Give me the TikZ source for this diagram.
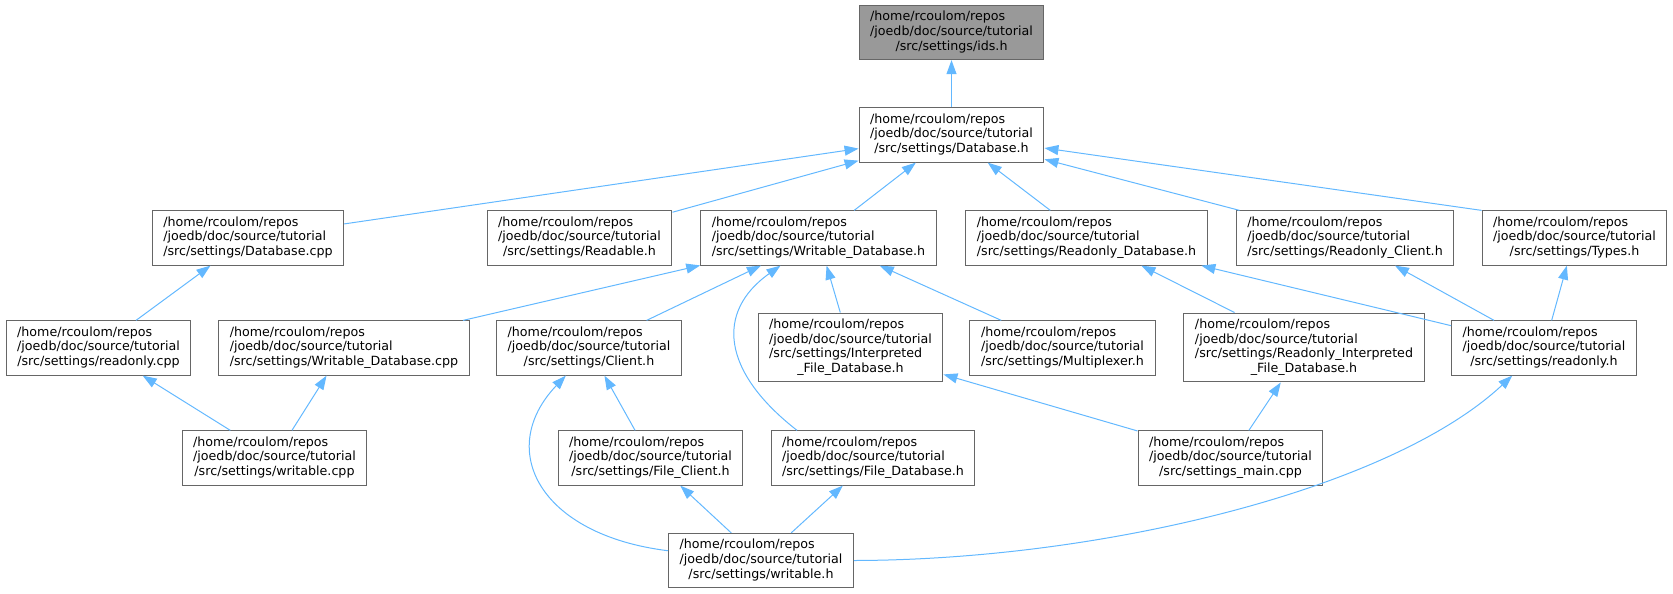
\documentclass[tikz,border=0pt]{standalone}
\usepackage{fontspec}
\setmainfont{DejaVu Sans}
\usepackage{xcolor}
\usetikzlibrary{arrows.meta}
\definecolor{edgeblue}{HTML}{63B8FF}
\definecolor{boxline}{HTML}{666666}
\definecolor{rootfill}{HTML}{999999}
\newcommand{\srcfile}[1]{\begin{tabular}{@{}l@{}}/home/rcoulom/repos\\/joedb/doc/source/tutorial\\\multicolumn{1}{@{}c@{}}{#1}\end{tabular}}
\newcommand{\srcfilelong}[2]{\begin{tabular}{@{}l@{}}/home/rcoulom/repos\\/joedb/doc/source/tutorial\\#1\\\multicolumn{1}{@{}c@{}}{#2}\end{tabular}}

\begin{document}
\begin{tikzpicture}[x=0.75pt,y=-0.75pt,
    file/.style={draw=boxline, fill=white, line width=0.75pt,
      inner xsep=8.3pt, inner ysep=3.85pt, font=\fontsize{9.5pt}{11pt}\selectfont},
    root/.style={file, fill=rootfill},
    dep/.style={draw=edgeblue, line width=0.75pt, -{Triangle[length=10.5pt,width=7.5pt]}}]
    \useasboundingbox (0,0) rectangle (1673,593);
    \node[root] (ids) at (951.5,32.5) {\srcfile{/src/settings/ids.h}};
    \node[file] (dbh) at (951.5,135) {\srcfile{/src/settings/Database.h}};
    \node[file] (dbcpp) at (248,238) {\srcfile{/src/settings/Database.cpp}};
    \node[file] (readable) at (579.5,238) {\srcfile{/src/settings/Readable.h}};
    \node[file] (wdbh) at (818.5,238) {\srcfile{/src/settings/Writable\_Database.h}};
    \node[file] (rodbh) at (1086.5,238) {\srcfile{/src/settings/Readonly\_Database.h}};
    \node[file] (roclient) at (1345,238) {\srcfile{/src/settings/Readonly\_Client.h}};
    \node[file] (types) at (1574.5,238) {\srcfile{/src/settings/Types.h}};
    \node[file] (rocpp) at (98.5,348) {\srcfile{/src/settings/readonly.cpp}};
    \node[file] (wdbcpp) at (344,348) {\srcfile{/src/settings/Writable\_Database.cpp}};
    \node[file] (client) at (589,348) {\srcfile{/src/settings/Client.h}};
    \node[file] (interp) at (850.5,347.5) {\srcfilelong{/src/settings/Interpreted}{\_File\_Database.h}};
    \node[file] (mux) at (1062.5,348) {\srcfile{/src/settings/Multiplexer.h}};
    \node[file] (rointerp) at (1304,347.5) {\srcfilelong{/src/settings/Readonly\_Interpreted}{\_File\_Database.h}};
    \node[file] (roh) at (1544,348) {\srcfile{/src/settings/readonly.h}};
    \node[file] (wcpp) at (274.5,458) {\srcfile{/src/settings/writable.cpp}};
    \node[file] (fclient) at (650.5,458) {\srcfile{/src/settings/File\_Client.h}};
    \node[file] (fdb) at (873,458) {\srcfile{/src/settings/File\_Database.h}};
    \node[file] (smain) at (1230.5,458) {\srcfile{/src/settings\_main.cpp}};
    \node[file] (wh) at (761,560.5) {\srcfile{/src/settings/writable.h}};

    \draw[dep] (dbh) -- (ids);
    \draw[dep] (dbcpp) -- (dbh);
    \draw[dep] (readable) -- (dbh);
    \draw[dep] (wdbh) -- (dbh);
    \draw[dep] (rodbh) -- (dbh);
    \draw[dep] (roclient) -- (dbh);
    \draw[dep] (types.north west) -- (dbh.-8);
    \draw[dep] (rocpp) -- (dbcpp);
    \draw[dep] (wdbcpp) -- (wdbh);
    \draw[dep] (client) -- (wdbh);
    \draw[dep] (interp) -- (wdbh);
    \draw[dep] (mux) -- (wdbh);
    \draw[dep] (fdb.160) .. controls (722,372) and (715,312) .. (wdbh.216);
    \draw[dep] (rointerp) -- (rodbh);
    \draw[dep] (roh) -- (rodbh);
    \draw[dep] (roh) -- (roclient);
    \draw[dep] (roh) -- (types);
    \draw[dep] (wcpp) -- (rocpp);
    \draw[dep] (wcpp) -- (wdbcpp);
    \draw[dep] (fclient) -- (client);
    \draw[dep] (smain) -- (interp);
    \draw[dep] (smain) -- (rointerp);
    \draw[dep] (wh.174) .. controls (540,535) and (495,450) .. (client.230);
    \draw[dep] (wh) -- (fclient);
    \draw[dep] (wh) -- (fdb);
    \draw[dep] (wh.east) .. controls (1100,560) and (1390,490) .. (roh.221);
\end{tikzpicture}
\end{document}
